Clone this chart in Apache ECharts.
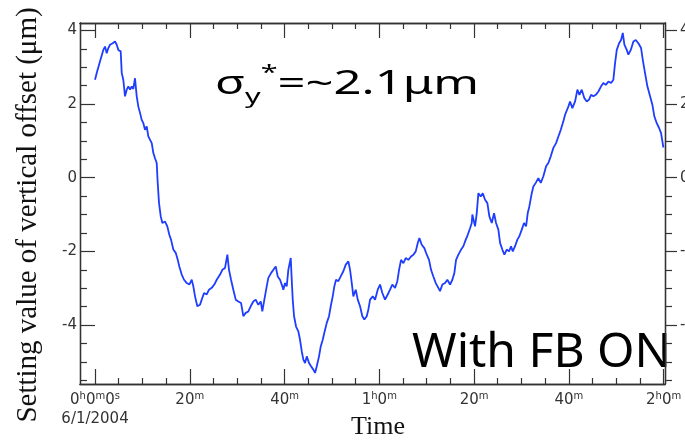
<!DOCTYPE html>
<html><head><meta charset="utf-8">
<script src="https://cdn.jsdelivr.net/npm/echarts@6/dist/echarts.min.js"></script>
<style>html,body{margin:0;padding:0;background:#fff}#c{width:685px;height:442px}</style>
</head><body><div id="c"></div>
<script>
// elapsed time in minutes since 0h0m0s (6/1/2004)
const timeMin = [
0.00,0.36,1.06,1.75,2.11,2.47,2.81,3.17,3.74,4.22,
4.58,4.92,5.42,5.64,5.97,6.33,6.69,7.03,7.39,7.75,
8.08,8.44,8.80,9.14,9.50,9.86,10.20,10.55,10.91,11.25,
11.61,11.97,12.31,12.66,13.02,13.23,13.51,13.87,14.21,14.78,
15.26,15.68,16.04,16.53,17.03,17.46,17.79,18.30,18.79,19.36,
19.90,20.41,20.75,21.11,21.59,22.16,22.52,23.01,23.58,24.06,
24.63,25.18,25.69,26.39,26.87,27.44,27.93,28.28,28.71,29.19,
29.70,30.25,30.82,31.30,31.81,32.36,32.86,33.41,33.92,34.47,
34.98,35.31,35.74,36.24,36.58,37.15,37.64,38.14,38.56,39.05,
39.54,39.75,40.11,40.46,40.80,41.31,41.52,41.73,42.01,42.43,
42.91,43.27,43.63,43.97,44.33,44.69,45.17,45.59,46.08,46.44,
46.80,47.28,47.64,48.06,48.40,48.91,49.39,49.75,50.17,50.51,
50.87,51.36,51.86,52.41,52.92,53.47,53.83,54.19,54.52,55.03,
55.45,55.94,56.42,56.84,57.35,57.69,58.05,58.62,59.10,59.67,
60.16,60.64,61.21,61.78,62.27,62.75,63.32,63.81,64.17,64.59,
65.08,65.58,66.13,66.70,67.19,67.69,68.12,68.46,68.96,69.51,
70.02,70.50,70.92,71.41,71.92,72.46,72.82,73.31,73.88,74.36,
74.93,75.42,75.84,76.20,76.69,77.26,77.74,78.25,78.67,79.16,
79.51,79.64,79.85,80.21,80.57,80.91,81.41,81.84,82.32,82.81,
83.23,83.74,84.22,84.64,85.13,85.49,85.97,86.40,86.90,87.39,
87.81,88.17,88.65,89.14,89.56,90.07,90.55,90.98,91.33,91.67,
92.18,92.52,93.02,93.57,94.08,94.63,95.20,95.68,96.19,96.74,
97.31,97.80,98.30,98.85,99.21,99.90,100.26,100.75,101.32,101.81,
102.23,102.73,103.28,103.79,104.27,104.70,105.18,105.69,106.24,106.81,
107.29,107.80,108.35,108.92,109.40,109.76,110.12,110.61,111.03,111.39,
111.73,112.23,112.57,113.08,113.63,114.13,114.68,115.25,115.61,116.09,
116.58,117.15,117.64,118.06,118.56,119.05,119.47,119.96
];
// setting value of vertical offset (um)
const offsetUm = [
2.66,2.84,3.16,3.47,3.56,3.38,3.52,3.61,3.65,3.70,
3.61,3.47,3.43,2.84,2.66,2.21,2.39,2.48,2.39,2.48,
2.41,2.70,2.21,1.93,1.76,1.57,1.48,1.30,1.39,1.12,
1.08,0.94,0.67,0.53,0.40,-0.14,-0.69,-1.05,-1.23,-1.19,
-1.32,-1.55,-1.68,-1.95,-2.04,-2.23,-2.41,-2.63,-2.77,-2.86,
-2.90,-2.77,-2.95,-3.22,-3.49,-3.45,-3.31,-3.13,-3.17,-3.04,
-2.99,-2.90,-2.77,-2.63,-2.50,-2.45,-2.09,-2.50,-2.77,-3.04,
-3.31,-3.36,-3.40,-3.76,-3.67,-3.63,-3.49,-3.36,-3.31,-3.45,
-3.36,-3.63,-3.31,-2.95,-2.72,-2.59,-2.50,-2.41,-2.68,-2.77,
-2.95,-3.04,-2.86,-2.95,-2.50,-2.18,-2.77,-3.31,-3.76,-4.04,
-4.17,-4.40,-4.71,-4.94,-5.03,-4.85,-5.03,-5.12,-5.21,-5.30,
-5.12,-4.85,-4.58,-4.40,-4.21,-3.94,-3.76,-3.49,-3.22,-2.95,
-2.77,-2.81,-2.68,-2.54,-2.36,-2.27,-2.50,-2.86,-3.22,-3.04,
-3.31,-3.49,-3.76,-3.85,-3.76,-3.58,-3.31,-3.22,-3.31,-3.04,
-2.90,-3.13,-3.31,-3.17,-3.04,-2.90,-2.99,-2.81,-2.50,-2.23,
-2.32,-2.18,-2.23,-2.14,-2.09,-2.00,-1.77,-1.64,-1.82,-1.91,
-2.09,-2.23,-2.50,-2.68,-2.86,-2.99,-3.08,-2.90,-2.86,-2.77,
-2.90,-2.77,-2.59,-2.23,-2.09,-1.95,-1.86,-1.68,-1.55,-1.37,
-1.23,-1.00,-1.05,-1.32,-0.96,-0.42,-0.51,-0.42,-0.60,-0.69,
-1.05,-1.23,-0.96,-1.23,-1.41,-1.77,-1.95,-2.09,-1.95,-2.00,
-1.86,-2.00,-1.86,-1.68,-1.59,-1.41,-1.23,-1.32,-0.96,-0.78,
-0.42,-0.24,-0.14,-0.01,-0.14,0.04,0.31,0.40,0.58,0.81,
0.94,1.12,1.30,1.53,1.71,1.93,2.07,1.89,2.07,2.39,
2.25,2.39,2.16,2.07,2.12,2.25,2.21,2.25,2.34,2.48,
2.57,2.52,2.61,2.57,2.66,3.11,3.47,3.65,3.74,3.93,
3.61,3.47,3.34,3.47,3.70,3.74,3.65,3.52,3.20,2.84,
2.48,2.21,1.98,1.66,1.48,1.35,1.21,0.82
];
const xMajorTicks = [0, 20, 40, 60, 80, 100, 120];
// tick labels: {n|...} normal text, {s|...} superscript unit letters
const xTickLabels = [
  '{n|0}{s|h}{n|0}{s|m}{n|0}{s|s}\n{n|6/1/2004}',
  '{n|20}{s|m}', '{n|40}{s|m}', '{n|1}{s|h}{n|0}{s|m}',
  '{n|20}{s|m}', '{n|40}{s|m}', '{n|2}{s|h}{n|0}{s|m}'
];
const xMinorTicks = [5,10,15,25,30,35,45,50,55,65,70,75,85,90,95,105,110,115];
const yMajorTicks = [-4, -2, 0, 2, 4];
const yMinorTicks = [-5.5,-5,-4.5,-3.5,-3,-2.5,-1.5,-1,-0.5,0.5,1,1.5,2.5,3,3.5];
const xTitle = 'Time';
const yTitle = 'Setting value of vertical offset (μm)';
const noteSigma = ['σ', 'y', '*', '=~2.1μm'];
const noteFB = 'With FB ON';

const XMIN = -3.17, XMAX = 120.3, YMIN = -5.6, YMAX = 4.2;
const AX = '#333';
const TF = 'DejaVu Sans, Liberation Sans, sans-serif';

function xAxisDef(pos, ticks, len, withLabels) {
  return {
    type: 'value', position: pos, min: XMIN, max: XMAX, splitLine: {show: false},
    axisLine: {show: true, onZero: false, lineStyle: {color: AX, width: 1.3}},
    axisTick: {show: true, inside: true, length: len, customValues: ticks, lineStyle: {color: AX, width: 1.2}},
    axisLabel: withLabels ? {
      show: true, margin: 7, customValues: xMajorTicks, color: '#333',
      formatter: v => { const i = xMajorTicks.findIndex(t => Math.abs(t - v) < 1e-6); return i >= 0 ? xTickLabels[i] : ''; },
      rich: {
        n: {fontSize: 15, fontFamily: TF, color: '#333', lineHeight: 19, verticalAlign: 'middle'},
        s: {fontSize: 10, fontFamily: TF, color: '#333', lineHeight: 12, verticalAlign: 'top'}
      }
    } : {show: false}
  };
}
function yAxisDef(pos, ticks, len, inside, withLabels, margin) {
  return {
    type: 'value', position: pos, min: YMIN, max: YMAX, splitLine: {show: false},
    axisLine: {show: true, onZero: false, lineStyle: {color: AX, width: 1.3}},
    axisTick: {show: true, inside: inside, length: len, customValues: ticks, lineStyle: {color: AX, width: 1.2}},
    axisLabel: withLabels ? {
      show: true, margin: margin, customValues: yMajorTicks, formatter: v => String(v),
      color: '#333', fontSize: 15, fontFamily: TF
    } : {show: false}
  };
}

const chart = echarts.init(document.getElementById('c'), null, {renderer: 'canvas'});
chart.setOption({
  animation: false,
  backgroundColor: '#fff',
  grid: {left: 80, right: 20, top: 23, bottom: 58, containLabel: false, outerBoundsMode: 'none'},
  xAxis: [
    xAxisDef('bottom', xMajorTicks, 15, true),
    xAxisDef('bottom', xMinorTicks, 6, false),
    xAxisDef('top', xMajorTicks, 15, false),
    xAxisDef('top', xMinorTicks, 6, false)
  ],
  yAxis: [
    yAxisDef('left', yMajorTicks, 15, true, true, 3),
    yAxisDef('left', yMinorTicks, 7, true, false, 0),
    yAxisDef('right', yMajorTicks, 12, false, true, 15),
    yAxisDef('right', yMinorTicks, 7, false, false, 0)
  ],
  series: [{
    type: 'line', xAxisIndex: 0, yAxisIndex: 0, showSymbol: false, symbol: 'none',
    data: timeMin.map((t, i) => [t, offsetUm[i]]),
    lineStyle: {color: '#1f3dff', width: 1.8}, clip: true
  }],
  graphic: [
    {type: 'text', x: 28, y: 215, rotation: Math.PI / 2,
     style: {text: yTitle, fontFamily: 'Liberation Serif, serif', fontSize: 29, fill: '#111', align: 'center', verticalAlign: 'middle'}},
    {type: 'text', x: 378, y: 427,
     style: {text: xTitle, fontFamily: 'Liberation Serif, serif', fontSize: 26, fill: '#111', align: 'center', verticalAlign: 'middle'}},
    {type: 'text', x: 215, y: 85, scaleX: 1.53,
     style: {
       text: '{m|' + noteSigma[0] + '}{sub|' + noteSigma[1] + '}{sup|' + noteSigma[2] + '}{m|' + noteSigma[3] + '}',
       align: 'left', verticalAlign: 'middle',
       rich: {
         m: {fontSize: 32, fontFamily: 'Noto Sans, sans-serif', fill: '#000', lineHeight: 44, verticalAlign: 'middle'},
         sub: {fontSize: 20, fontFamily: 'Noto Sans, sans-serif', fill: '#000', lineHeight: 44, verticalAlign: 'bottom'},
         sup: {fontSize: 20, fontFamily: 'Noto Sans, sans-serif', fill: '#000', lineHeight: 20, verticalAlign: 'top'}
       }
     }},
    {type: 'text', x: 412, y: 353,
     style: {text: noteFB, fontFamily: 'Noto Sans, sans-serif', fontSize: 48, fill: '#000', align: 'left', verticalAlign: 'middle'}}
  ]
});
</script>
</body></html>
